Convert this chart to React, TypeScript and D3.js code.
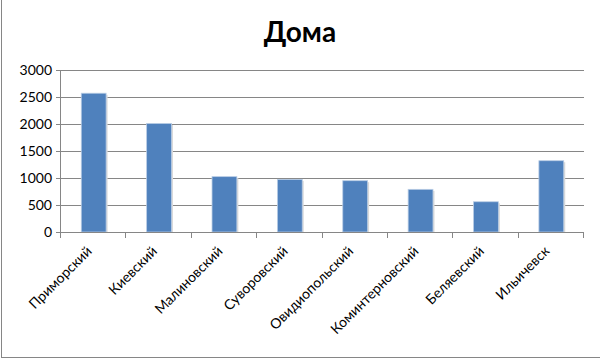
import { useEffect, useRef } from 'react';
import * as d3 from 'd3';

const categories = [
  'Приморский',
  'Киевский',
  'Малиновский',
  'Суворовский',
  'Овидиопольский',
  'Коминтерновский',
  'Беляевский',
  'Ильичевск',
];
const values = [2570, 2010, 1025, 975, 950, 790, 560, 1320];
const yTicks = [0, 500, 1000, 1500, 2000, 2500, 3000];

const W = 600;
const H = 360;
const FONT = 'Lato, "Open Sans", sans-serif';

export default function App() {
  const ref = useRef<SVGSVGElement>(null);

  useEffect(() => {
    if (!ref.current) return;
    document.body.style.margin = '0';

    const svg = d3.select(ref.current);
    svg.selectAll('*').remove();

    const margin = { top: 70, right: 16, bottom: 128, left: 61 };
    const innerW = W - margin.left - margin.right;
    const innerH = H - margin.top - margin.bottom;

    const x = d3.scaleBand<string>().domain(categories).range([0, innerW]).paddingInner(0.62).paddingOuter(0.31);
    const y = d3.scaleLinear().domain([0, 3000]).range([innerH, 0]);

    // chart frame
    svg.append('rect')
      .attr('x', 1.5).attr('y', -2)
      .attr('width', W + 4).attr('height', H - 0.5)
      .attr('fill', '#fff')
      .attr('stroke', '#868686');

    svg.append('text')
      .attr('x', W / 2)
      .attr('y', 42)
      .attr('text-anchor', 'middle')
      .style('font-family', FONT)
      .style('font-weight', 'bold')
      .style('font-size', '28px')
      .text('Дома');

    const g = svg.append('g').attr('transform', `translate(${margin.left},${margin.top})`);

    // gridlines
    g.selectAll('.grid')
      .data(yTicks.filter(d => d > 0))
      .join('line')
      .attr('x1', 0).attr('x2', innerW)
      .attr('y1', d => Math.round(y(d)) + 0.5)
      .attr('y2', d => Math.round(y(d)) + 0.5)
      .attr('stroke', '#868686');

    // bars with a faint shadow
    g.selectAll('.shadow')
      .data(values)
      .join('rect')
      .attr('x', (_, i) => x(categories[i])! + 1.5)
      .attr('y', d => y(d) + 1.5)
      .attr('width', x.bandwidth())
      .attr('height', d => innerH - y(d) - 1.5)
      .attr('fill', '#d9d9d9');

    g.selectAll('.bar')
      .data(values)
      .join('rect')
      .attr('x', (_, i) => x(categories[i])!)
      .attr('y', d => y(d))
      .attr('width', x.bandwidth())
      .attr('height', d => innerH - y(d))
      .attr('fill', '#4f81bd')
      .attr('stroke', '#b9cde5')
      .attr('stroke-width', 0.8);

    // y axis
    const yAxis = g.append('g')
      .call(d3.axisLeft(y).tickValues(yTicks).tickFormat(d3.format('d')).tickSize(5).tickPadding(4));
    yAxis.select('.domain').attr('stroke', '#868686').attr('d', `M-0.5,${innerH}V0`);
    yAxis.selectAll('.tick line').attr('stroke', '#868686');
    yAxis.selectAll('text')
      .style('font-family', FONT)
      .style('font-size', '14px')
      .attr('fill', '#000');

    // x axis
    const step = x.step();
    const xAxisG = g.append('g').attr('transform', `translate(0,${innerH})`);
    xAxisG.append('line')
      .attr('x1', -5).attr('x2', innerW)
      .attr('y1', 0.5).attr('y2', 0.5)
      .attr('stroke', '#868686');
    xAxisG.selectAll('.xt')
      .data(d3.range(categories.length + 1))
      .join('line')
      .attr('x1', i => Math.round(i * step) - 0.5)
      .attr('x2', i => Math.round(i * step) - 0.5)
      .attr('y1', 0).attr('y2', 6)
      .attr('stroke', '#868686');

    xAxisG.selectAll('.xl')
      .data(categories)
      .join('text')
      .attr('text-anchor', 'end')
      .attr('transform', d => `translate(${x(d)! + x.bandwidth() / 2 - 1},${20}) rotate(-45)`)
      .style('font-family', FONT)
      .style('font-size', '14px')
      .attr('fill', '#000')
      .text(d => d);
  }, []);

  return <svg ref={ref} width={W} height={H} style={{ display: 'block' }} />;
}
